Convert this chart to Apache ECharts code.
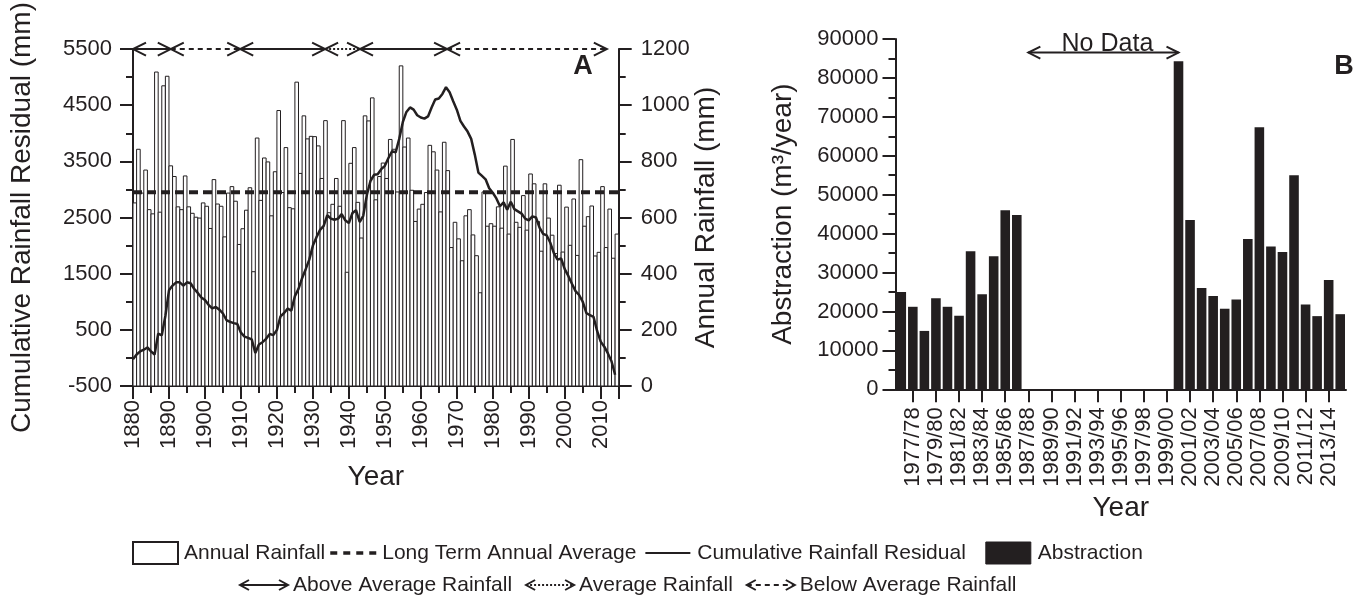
<!DOCTYPE html>
<html>
<head>
<meta charset="utf-8">
<script src="https://cdn.jsdelivr.net/npm/echarts@6/dist/echarts.min.js"></script>
<style>
  html, body { margin: 0; padding: 0; background: #fff; }
  #chart { width: 1356px; height: 603px; }
</style>
</head>
<body>
<div id="chart"></div>
<script>
// ---------------- data ----------------
const firstYear = 1880;

// Annual rainfall (mm), one value per year from 1880 to 2014
const annualRainfall = [
  652, 843, 687, 769, 628, 613, 1118, 619, 1069, 1103,
  784, 746, 638, 628, 748, 638, 615, 601, 598, 652,
  640, 561, 735, 648, 640, 531, 687, 710, 658, 504,
  560, 626, 706, 407, 883, 661, 812, 798, 606, 763,
  981, 689, 849, 635, 631, 1082, 757, 962, 880, 889,
  888, 855, 739, 945, 617, 647, 739, 640, 945, 405,
  793, 849, 654, 527, 962, 944, 1026, 663, 746, 794,
  739, 878, 843, 691, 1140, 851, 883, 697, 586, 630,
  647, 689, 857, 834, 769, 620, 868, 767, 493, 583,
  524, 446, 606, 628, 538, 464, 332, 691, 569, 578,
  569, 638, 562, 783, 541, 878, 583, 565, 678, 555,
  755, 720, 586, 480, 720, 598, 537, 472, 715, 477,
  637, 501, 666, 465, 806, 569, 603, 641, 463, 476,
  710, 493, 630, 455, 541
];

// Cumulative rainfall residual (mm), one value per year from 1880 to 2014
const cumulativeResidual = [
  -25, 60, 117, 146, 186, 117, 60, 431, 403, 746,
  1203, 1288, 1346, 1346, 1288, 1346, 1329, 1231, 1157, 1077,
  1031, 945, 883, 906, 860, 791, 671, 643, 620, 603,
  450, 380, 357, 330, 88, 240, 280, 340, 425, 405,
  500, 740, 800, 880, 840, 1100, 1230, 1420, 1580, 1750,
  2000, 2150, 2280, 2350, 2540, 2480, 2460, 2480, 2560, 2450,
  2400, 2580, 2630, 2420, 2530, 2900, 3150, 3260, 3270, 3360,
  3420, 3560, 3680, 3660, 3900, 4200, 4380, 4460, 4420, 4320,
  4280, 4260, 4300, 4460, 4600, 4620, 4700, 4820, 4730, 4570,
  4420, 4220, 4120, 4030, 3900, 3620, 3300, 3240, 3180, 3020,
  2940, 2840, 2700, 2770, 2640, 2780, 2650, 2610, 2570, 2480,
  2450, 2520, 2500, 2320, 2210, 2180, 2050, 1860, 1750, 1770,
  1580, 1460, 1320, 1190, 1120, 1000, 800, 760, 730, 480,
  290, 200, 80, -60, -300
];

// Long term annual average rainfall (mm)
const longTermAverage = 690;

// Rainfall periods shown as arrows along the top of panel A: [from, to, kind]
const ABOVE = 0, AVERAGE = 1, BELOW = 2;
const rainfallPeriods = [
  [1880, 1890.5, ABOVE],
  [1890.5, 1909.8, BELOW],
  [1909.8, 1933.4, ABOVE],
  [1933.4, 1943.1, AVERAGE],
  [1943.1, 1967.3, ABOVE],
  [1967.3, 2011.7, BELOW]
];

// Abstraction seasons 1976/77 .. 2014/15
const seasons = [];
for (let y = 1976; y <= 2014; y++) {
  seasons.push(y + '/' + String((y + 1) % 100).padStart(2, '0'));
}

// Abstraction (m3/year); null where no records exist
const abstraction = [
  25000, 21200, 15000, 23400, 21200, 18900, 35500, 24400, 34200, 46000, 44800,
  null, null, null, null, null, null, null, null, null, null, null, null, null,
  84300, 43500, 26000, 24000, 20700, 23100, 38600, 67300, 36700, 35300, 55000,
  21800, 18800, 28100, 19300
];

// "No Data" gap, in category positions (1987/88 .. 1999/00), and its height
const noDataSpan = [10.9, 23.5];
const noDataLevel = 86500;

// ---------------- styling ----------------
const INK = '#231f20';
const FONT = '"Liberation Sans", Arial, Helvetica, sans-serif';
const TICK = 22;
const TITLE = 28;

function plain(v) { return String(v); }

function dashFor(kind) {
  if (kind === AVERAGE) return [2, 2];
  if (kind === BELOW) return [5, 4];
  return null;
}

// Double headed arrow with open chevron heads
function arrowParts(x1, x2, y, kind, head, half, lw) {
  const line = { type: 'line', shape: { x1: x1, y1: y, x2: x2, y2: y },
                 style: { stroke: INK, lineWidth: lw } };
  const d = dashFor(kind);
  if (d) line.style.lineDash = d;
  return [
    line,
    { type: 'polyline', shape: { points: [[x1 + head, y - half], [x1, y], [x1 + head, y + half]] },
      style: { stroke: INK, lineWidth: lw, fill: 'none' } },
    { type: 'polyline', shape: { points: [[x2 - head, y - half], [x2, y], [x2 - head, y + half]] },
      style: { stroke: INK, lineWidth: lw, fill: 'none' } }
  ];
}

const rainData = annualRainfall.map((v, i) => [firstYear + i, v]);
const residualData = cumulativeResidual.map((v, i) => [firstYear + i, v]);
const lastYear = firstYear + annualRainfall.length; // right edge of the last year

function axisCommon() {
  return {
    axisLine: { show: true, onZero: false, lineStyle: { color: INK, width: 2 } },
    axisTick: { show: true, inside: false, length: 13, lineStyle: { color: INK, width: 2 } },
    minorTick: { show: true, splitNumber: 2, length: 7, lineStyle: { color: INK, width: 2 } },
    splitLine: { show: false },
    minorSplitLine: { show: false },
    nameMoveOverlap: false,
    nameTextStyle: { fontSize: TITLE, color: INK, fontFamily: FONT },
    axisLabel: { fontSize: TICK, color: INK, fontFamily: FONT, formatter: plain }
  };
}

// ---------------- legend (drawn as graphics) ----------------
const measureCtx = document.createElement('canvas').getContext('2d');
function textWidth(s, size) {
  measureCtx.font = size + 'px ' + FONT;
  return measureCtx.measureText(s).width;
}

const LEG = 21;
const legendGraphics = [];
(function buildLegend() {
  function addText(s, xx, yy) {
    legendGraphics.push({ type: 'text', x: xx, y: yy,
      style: { text: s, fontSize: LEG, fontFamily: FONT, fill: INK, verticalAlign: 'middle', align: 'left' } });
    return xx + textWidth(s, LEG);
  }
  // first row
  let x = 133;
  const y1 = 553;
  legendGraphics.push({ type: 'rect', shape: { x: x, y: y1 - 11, width: 45, height: 22 },
    style: { fill: '#fff', stroke: INK, lineWidth: 2 } });
  x += 51;
  x = addText('Annual Rainfall', x, y1) + 5;
  legendGraphics.push({ type: 'line', shape: { x1: x, y1: y1, x2: x + 46, y2: y1 },
    style: { stroke: INK, lineWidth: 3.5, lineDash: [7, 6] } });
  x += 52;
  x = addText('Long Term Annual Average', x, y1) + 9;
  legendGraphics.push({ type: 'line', shape: { x1: x, y1: y1, x2: x + 45, y2: y1 },
    style: { stroke: INK, lineWidth: 2 } });
  x += 52;
  x = addText('Cumulative Rainfall Residual', x, y1) + 20;
  legendGraphics.push({ type: 'rect', shape: { x: x, y: y1 - 11, width: 45, height: 22 },
    style: { fill: INK, stroke: INK, lineWidth: 1 } });
  x += 52;
  addText('Abstraction', x, y1);

  // second row
  const y2 = 585;
  x = 240;
  const labels = [['Above Average Rainfall', ABOVE], ['Average Rainfall', AVERAGE], ['Below Average Rainfall', BELOW]];
  labels.forEach(function (item) {
    legendGraphics.push({ type: 'group', children: arrowParts(x, x + 48, y2, item[1], 9, 5, 2) });
    x += 53;
    x = addText(item[0], x, y2) + 14;
  });
})();

// ---------------- chart ----------------
const chart = echarts.init(document.getElementById('chart'), null, { renderer: 'canvas' });

const option = {
  animation: false,
  backgroundColor: '#fff',
  textStyle: { fontFamily: FONT, color: INK },
  grid: [
    { left: 133, top: 36, width: 485.7, height: 350 },
    { left: 895.5, top: 39, width: 450.5, height: 350.3 }
  ],
  xAxis: [
    Object.assign(axisCommon(), {
      gridIndex: 0, type: 'value', min: firstYear, max: 2015, interval: 10,
      name: 'Year', nameLocation: 'middle', nameGap: 77,
      axisLabel: { fontSize: TICK, color: INK, fontFamily: FONT, rotate: 90, margin: 14,
        formatter: function (v) { return v % 10 === 0 ? String(v) : ''; } }
    }),
    Object.assign(axisCommon(), {
      gridIndex: 1, type: 'category', data: seasons, boundaryGap: true,
      name: 'Year', nameLocation: 'middle', nameGap: 105,
      axisTick: { show: true, alignWithLabel: true, length: 13, lineStyle: { color: INK, width: 2 },
        interval: function (i) { return i % 2 === 1; } },
      minorTick: { show: false },
      axisLabel: { fontSize: TICK, color: INK, fontFamily: FONT, rotate: 90, margin: 18,
        interval: function (i) { return i % 2 === 1; } }
    })
  ],
  yAxis: [
    Object.assign(axisCommon(), {
      gridIndex: 0, type: 'value', position: 'left', min: -500, max: 5500, interval: 1000,
      name: 'Cumulative Rainfall Residual (mm)', nameLocation: 'middle', nameGap: 97,
      axisLabel: { fontSize: TICK, color: INK, fontFamily: FONT, margin: 21, formatter: plain }
    }),
    Object.assign(axisCommon(), {
      gridIndex: 0, type: 'value', position: 'right', min: 0, max: 1200, interval: 200,
      name: 'Annual Rainfall (mm)', nameLocation: 'middle', nameGap: 74,
      axisLabel: { fontSize: TICK, color: INK, fontFamily: FONT, margin: 22, formatter: plain }
    }),
    Object.assign(axisCommon(), {
      gridIndex: 1, type: 'value', position: 'left', min: 0, max: 90000, interval: 10000,
      name: 'Abstraction (m³/year)', nameLocation: 'middle', nameGap: 98,
      axisLabel: { fontSize: TICK, color: INK, fontFamily: FONT, margin: 17, formatter: plain }
    })
  ],
  series: [
    {
      name: 'Annual Rainfall', type: 'custom', xAxisIndex: 0, yAxisIndex: 1, z: 1,
      data: rainData,
      renderItem: function (params, api) {
        const yr = api.value(0), v = api.value(1);
        const a = api.coord([yr, v]);
        const b = api.coord([yr + 1, 0]);
        return { type: 'rect',
          shape: { x: a[0], y: a[1], width: b[0] - a[0], height: b[1] - a[1] },
          style: { fill: '#fff', stroke: INK, lineWidth: 1 } };
      }
    },
    {
      name: 'Long Term Annual Average', type: 'line', xAxisIndex: 0, yAxisIndex: 1, z: 3,
      data: [[firstYear, longTermAverage], [lastYear, longTermAverage]],
      showSymbol: false, symbol: 'none',
      lineStyle: { color: INK, width: 4, type: [9, 5] }
    },
    {
      name: 'Cumulative Rainfall Residual', type: 'line', xAxisIndex: 0, yAxisIndex: 0, z: 4,
      data: residualData, showSymbol: false, symbol: 'none',
      lineStyle: { color: INK, width: 2.5 }
    },
    {
      name: 'Rainfall Periods', type: 'custom', xAxisIndex: 0, yAxisIndex: 0, z: 5,
      data: rainfallPeriods,
      renderItem: function (params, api) {
        const start = api.coord([api.value(0), 5500]);
        const end = api.coord([api.value(1), 5500]);
        return { type: 'group', children: arrowParts(start[0], end[0], start[1], api.value(2), 13, 6.5, 2) };
      }
    },
    {
      name: 'Abstraction', type: 'bar', xAxisIndex: 1, yAxisIndex: 2,
      data: abstraction, barCategoryGap: '17%',
      itemStyle: { color: INK }
    },
    {
      name: 'No Data', type: 'custom', xAxisIndex: 1, yAxisIndex: 2, z: 5,
      data: [[noDataSpan[0], noDataSpan[1], noDataLevel]],
      renderItem: function (params, api) {
        const a = api.coord([api.value(0), api.value(2)]);
        const b = api.coord([api.value(1), api.value(2)]);
        const parts = [
          { type: 'line', shape: { x1: a[0], y1: a[1], x2: b[0], y2: b[1] }, style: { stroke: INK, lineWidth: 2 } },
          { type: 'polyline', shape: { points: [[a[0] + 12, a[1] - 6], [a[0], a[1]], [a[0] + 12, a[1] + 6]] },
            style: { stroke: INK, lineWidth: 2, fill: 'none' } },
          { type: 'polyline', shape: { points: [[b[0] - 12, b[1] - 6], [b[0], b[1]], [b[0] - 12, b[1] + 6]] },
            style: { stroke: INK, lineWidth: 2, fill: 'none' } },
          { type: 'text', x: (a[0] + b[0]) / 2 + 4, y: a[1] + 4,
            style: { text: 'No Data', fontSize: 25, fontFamily: FONT, fill: INK, align: 'center', verticalAlign: 'bottom' } }
        ];
        return { type: 'group', children: parts };
      }
    }
  ],
  graphic: [
    { type: 'text', x: 583, y: 67,
      style: { text: 'A', fontSize: 27, fontWeight: 'bold', fontFamily: FONT, fill: INK, align: 'center', verticalAlign: 'middle' } },
    { type: 'text', x: 1344, y: 67,
      style: { text: 'B', fontSize: 27, fontWeight: 'bold', fontFamily: FONT, fill: INK, align: 'center', verticalAlign: 'middle' } }
  ].concat(legendGraphics)
};

chart.setOption(option);
</script>
</body>
</html>
